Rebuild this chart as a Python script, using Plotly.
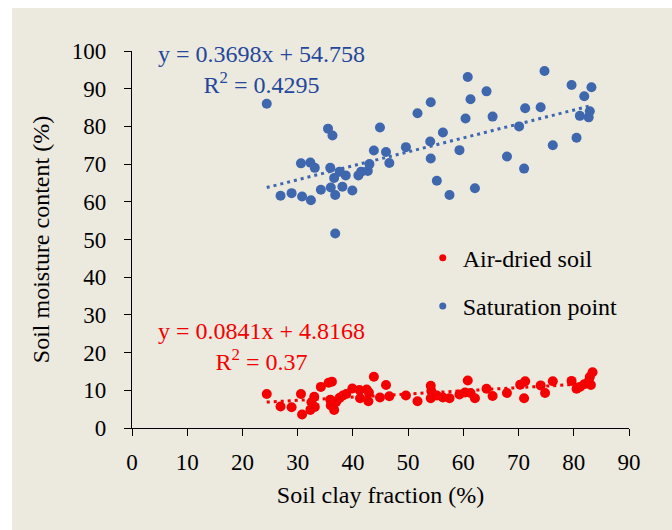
import plotly.graph_objects as go

# ---- data ----
clay_sat = [24.4, 26.9, 28.9, 30.6, 30.8, 32.3, 32.4, 33.1, 34.2, 35.5, 35.9, 36.0, 36.3, 36.6,
            36.8, 36.8, 37.6, 38.1, 38.7, 39.9, 41.0, 41.5, 42.7, 43.0, 43.8, 44.9, 46.0, 46.6,
            49.6, 51.7, 54.1, 54.0, 54.1, 55.2, 56.3, 57.5, 59.3, 60.4, 60.8, 61.3, 62.1, 64.2,
            65.3, 67.9, 70.1, 71.0, 71.2, 74.0, 74.7, 76.2, 79.6, 80.5, 81.1, 81.9, 82.7, 82.9, 83.2]
moist_sat = [86.0, 61.6, 62.3, 70.2, 61.4, 70.4, 60.4, 69.0, 63.2, 79.4, 69.0, 63.8, 77.6, 66.3,
             61.8, 51.6, 68.0, 64.0, 67.0, 63.0, 67.0, 68.0, 68.2, 70.0, 73.6, 79.7, 73.2, 70.3,
             74.5, 83.5, 86.4, 76.0, 71.5, 65.6, 78.4, 61.8, 73.7, 82.1, 93.1, 87.2, 63.6, 89.3,
             82.6, 72.0, 80.0, 68.8, 84.8, 85.1, 94.7, 75.0, 91.0, 77.0, 82.8, 88.0, 82.4, 84.0, 90.4]

clay_air = [24.4, 26.9, 28.9, 30.6, 30.8, 32.3, 32.5, 33.0, 33.1, 34.2, 35.6, 36.2, 35.9, 36.0,
            36.3, 36.6, 37.0, 37.6, 38.2, 38.8, 39.9, 41.2, 41.3, 42.5, 42.8, 42.9, 43.8, 44.9,
            46.0, 46.6, 49.6, 51.7, 54.1, 54.2, 54.1, 55.2, 56.3, 57.5, 59.3, 60.3, 60.8, 61.3,
            62.1, 64.2, 65.3, 67.9, 70.3, 71.2, 71.0, 74.0, 74.8, 76.2, 79.6, 80.5, 81.1, 81.9,
            82.7, 82.9, 83.1, 83.4]
moist_air = [9.0, 5.7, 5.5, 9.0, 3.6, 4.8, 6.8, 8.3, 5.6, 10.9, 12.0, 12.3, 7.5, 6.0,
             6.8, 4.8, 7.0, 8.0, 8.6, 9.0, 10.5, 10.1, 7.9, 10.2, 7.1, 9.4, 13.6, 8.1,
             11.4, 8.4, 8.6, 7.1, 11.2, 9.8, 7.9, 8.6, 8.1, 7.9, 8.9, 9.4, 12.6, 9.3,
             7.9, 10.4, 8.5, 9.3, 11.5, 12.4, 7.9, 11.3, 9.3, 12.4, 12.5, 10.4, 10.9, 11.6,
             12.4, 13.5, 11.4, 14.8]

fit_sat = (0.3698, 54.758, 0.4295)
fit_air = (0.0841, 4.8168, 0.37)

series_names = ["Air-dried soil", "Saturation point"]
x_ticks = [0, 10, 20, 30, 40, 50, 60, 70, 80, 90]
y_ticks = [0, 10, 20, 30, 40, 50, 60, 70, 80, 90, 100]

BLUE = "#3f67ae"
BLUE_TXT = "#23479a"
RED = "#f40000"
FONT = "Times New Roman, Liberation Serif, serif"

fig = go.Figure()

def trend(xs, fit, color):
    x0, x1 = min(xs), max(xs)
    return go.Scatter(x=[x0, x1], y=[fit[0] * x0 + fit[1], fit[0] * x1 + fit[1]],
                      mode="lines", line=dict(color=color, width=3, dash="3px,4px"),
                      showlegend=False, hoverinfo="skip")

fig.add_trace(go.Scatter(x=clay_sat, y=moist_sat, mode="markers",
                         marker=dict(color=BLUE, size=10), showlegend=False))
fig.add_trace(go.Scatter(x=clay_air, y=moist_air, mode="markers",
                         marker=dict(color=RED, size=10), showlegend=False))
fig.add_trace(trend(clay_sat, fit_sat, BLUE))
fig.add_trace(trend(clay_air, fit_air, RED))

# legend entries
fig.add_trace(go.Scatter(x=[None], y=[None], mode="markers", name=series_names[0],
                         marker=dict(color=RED, size=7), legendgroup="a"))
fig.add_trace(go.Scatter(x=[None], y=[None], mode="markers", name=series_names[1],
                         marker=dict(color=BLUE, size=7), legendgroup="b"))

# equations
fig.add_annotation(x=0.26, y=0.952, xref="paper", yref="paper", showarrow=False,
                   xanchor="center", yanchor="middle", align="center",
                   text=f"y = {fit_sat[0]}x + {fit_sat[1]}<br>R<sup>2</sup> = {fit_sat[2]}",
                   font=dict(family=FONT, size=24, color=BLUE_TXT))
fig.add_annotation(x=0.26, y=0.215, xref="paper", yref="paper", showarrow=False,
                   xanchor="center", yanchor="middle", align="center",
                   text=f"y = {fit_air[0]}x + {fit_air[1]}<br>R<sup>2</sup> = {fit_air[2]}",
                   font=dict(family=FONT, size=24, color=RED))

# white strips at top and left of the picture
fig.add_shape(type="rect", xref="paper", yref="paper", x0=-0.3, x1=1.2, y0=1.114, y1=1.2,
              fillcolor="white", line_width=0, layer="below")
fig.add_shape(type="rect", xref="paper", yref="paper", x0=-0.3, x1=-0.2414, y0=-0.3, y1=1.2,
              fillcolor="white", line_width=0, layer="below")

axis_common = dict(showgrid=False, zeroline=False, showline=True, linecolor="black",
                   linewidth=1.3, ticks="outside", tickcolor="black", tickwidth=1.3,
                   ticklen=7, tickfont=dict(family=FONT, size=23, color="black"))

fig.update_xaxes(range=[0, 90], tickvals=x_ticks, **axis_common, ticklabelstandoff=6,
                 title=dict(text="Soil clay fraction (%)", standoff=12,
                            font=dict(family=FONT, size=24, color="black")))
fig.update_yaxes(range=[0, 100], tickvals=y_ticks, **axis_common, ticklabelstandoff=13,
                 title=dict(text="Soil moisture content (%)", standoff=15,
                            font=dict(family=FONT, size=24, color="black")))

fig.update_layout(
    width=672, height=530,
    margin=dict(l=132, r=43, t=51, b=102),
    paper_bgcolor="#ece9df", plot_bgcolor="#ece9df",
    legend=dict(x=0.585, y=0.51, xanchor="left", yanchor="top",
                font=dict(family=FONT, size=24, color="black"),
                bgcolor="rgba(0,0,0,0)", tracegroupgap=14, itemwidth=30),
    showlegend=True,
)

fig.write_html("out.html")
